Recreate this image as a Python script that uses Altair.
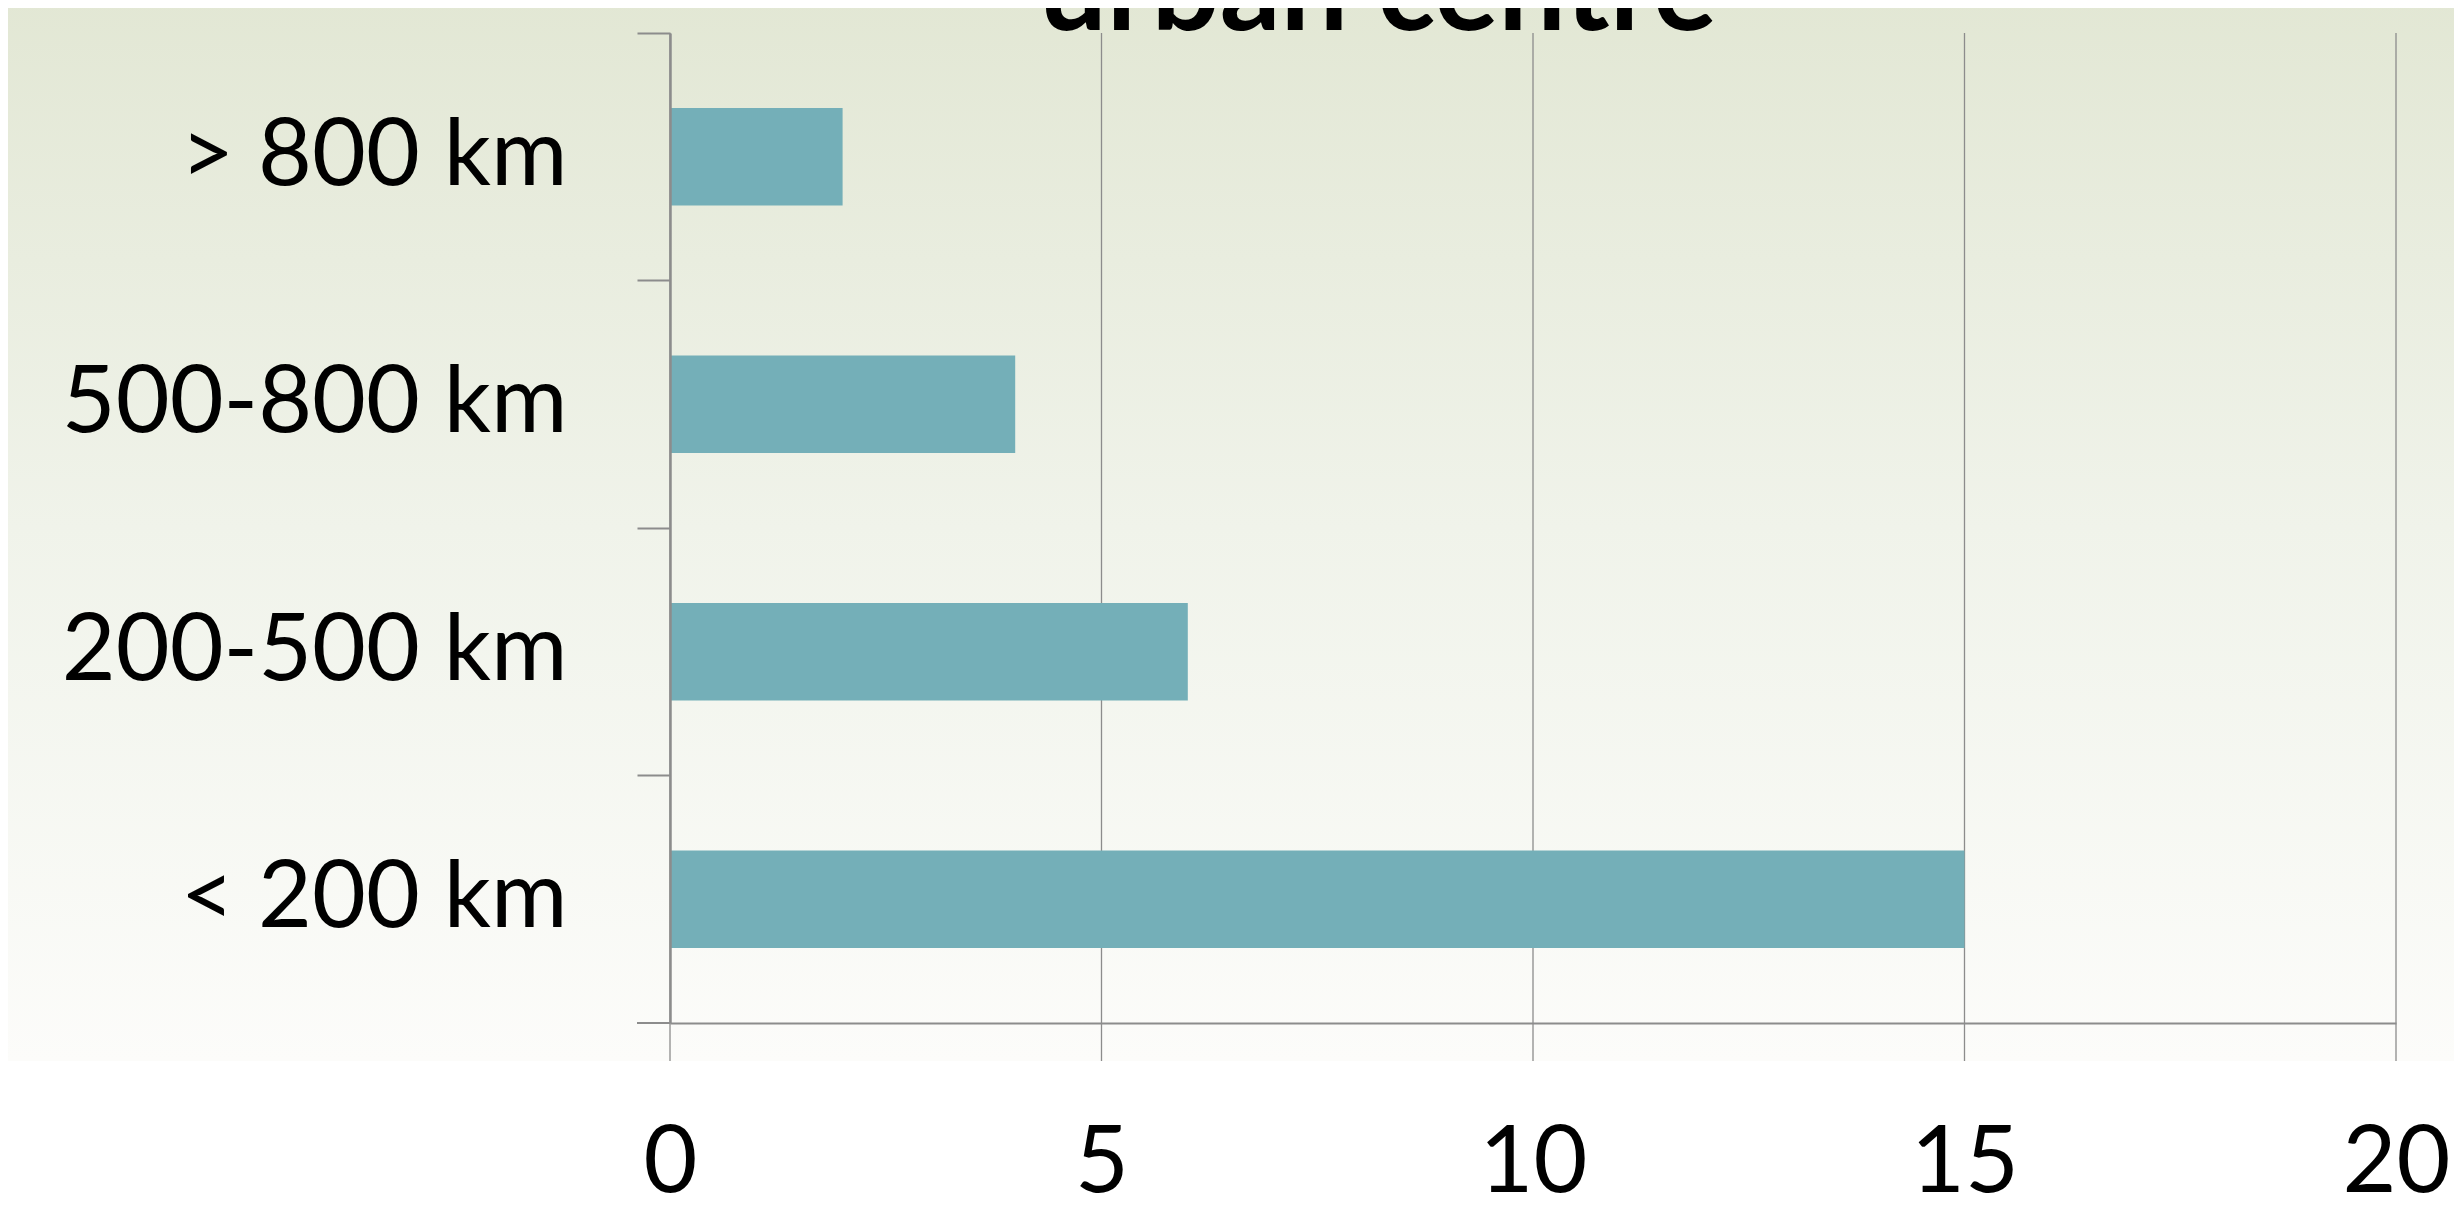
import altair as alt
import pandas as pd

# Data
categories = ["> 800 km", "500-800 km", "200-500 km", "< 200 km"]
values = [2, 4, 6, 15]
x_ticks = [0, 5, 10, 15, 20]
title_text = "urban centre"

W, H = 1726, 990
GRAY = "#8C8C8C"
FONT = "Lato"
TOP = 25

df = pd.DataFrame({"cat": categories, "value": values})
grid_df = pd.DataFrame({"value": x_ticks})
one = pd.DataFrame({"a": [0]})

xscale = alt.Scale(domain=[0, 20], nice=False, zero=True)
xaxis = alt.Axis(
    values=x_ticks, grid=False, ticks=False, domain=True,
    domainColor=GRAY, domainWidth=2, labelFont=FONT, labelFontSize=93,
    labelColor="black", labelBaseline="alphabetic", labelPadding=168,
    labelFlush=False, labelLimit=0, title=None, zindex=1,
)

background = alt.Chart(one).mark_rect(
    fill=alt.Gradient(
        gradient="linear", x1=0, y1=0, x2=0, y2=1,
        stops=[
            alt.GradientStop(color="#E2E7D4", offset=0),
            alt.GradientStop(color="#F0F3EA", offset=0.5),
            alt.GradientStop(color="#FCFCFA", offset=1),
        ],
    )
).encode(
    x=alt.value(-670), x2=alt.value(W + 80),
    y=alt.value(-40), y2=alt.value(H + 38),
)

grid = alt.Chart(grid_df).mark_rule(color=GRAY, strokeWidth=1.3).encode(
    x=alt.X("value:Q", scale=xscale, axis=xaxis),
    y=alt.value(0), y2=alt.value(H + 38),
)

bars = alt.Chart(df).mark_bar(
    color="#74AFB8", height=alt.RelativeBandSize(0.393)
).encode(
    x=alt.X("value:Q", scale=xscale, axis=xaxis),
    y=alt.Y("cat:N", sort=categories,
            scale=alt.Scale(paddingInner=0, paddingOuter=0),
            axis=alt.Axis(
                grid=False, domain=True, domainColor=GRAY, domainWidth=2.5,
                ticks=True, tickColor=GRAY, tickWidth=2, tickSize=33,
                bandPosition=0, labelPadding=70, labelLimit=0,
                labelFont=FONT, labelFontSize=93, labelColor="black",
                labelAlign="right", labelBaseline="middle", title=None,
                zindex=1,
            )),
)

corner = alt.Chart(one).mark_rule(color=GRAY, strokeWidth=2).encode(
    x=alt.value(-33), x2=alt.value(0), y=alt.value(H),
)

title = alt.Chart(one).mark_text(
    text=title_text, font=FONT, fontSize=120, fontWeight="bold",
    color="black", align="center", baseline="alphabetic",
).encode(x=alt.value(708), y=alt.value(-3))

chart = alt.layer(background, grid, bars, corner, title).properties(
    width=W, height=H,
    autosize=alt.AutoSizeParams(type="none"),
    padding={"left": 662, "top": TOP, "right": 58, "bottom": 174},
).configure_view(stroke=None).configure(background="white")

chart.save("out.html", embed_options={"renderer": "svg", "actions": False})
